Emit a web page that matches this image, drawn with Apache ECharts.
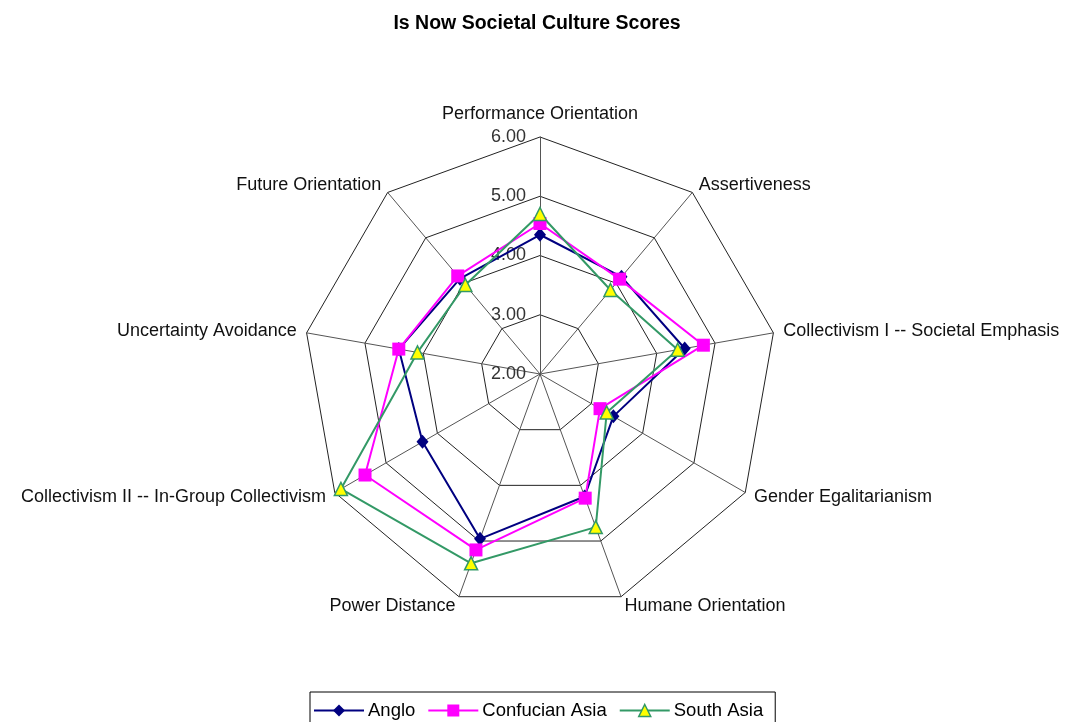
<!DOCTYPE html>
<html>
<head>
<meta charset="utf-8">
<title>Is Now Societal Culture Scores</title>
<script src="https://cdn.jsdelivr.net/npm/echarts@6/dist/echarts.min.js"></script>
<style>
  html, body { margin: 0; padding: 0; background: #fff; }
  #radarChart { width: 1074px; height: 722px; }
</style>
</head>
<body>
<div id="radarChart"></div>
<script>
// dimensions, listed counterclockwise from the top (ECharts radar default)
const dimensions = [
  'Performance Orientation',
  'Future Orientation',
  'Uncertainty Avoidance',
  'Collectivism II -- In-Group Collectivism',
  'Power Distance',
  'Humane Orientation',
  'Gender Egalitarianism',
  'Collectivism I -- Societal Emphasis',
  'Assertiveness'
];
const scaleMin = 2;
const scaleMax = 6;

const anglo = [4.35, 4.10, 4.42, 4.29, 4.96, 4.20, 3.43, 4.48, 4.14];
const confucianAsia = [4.54, 4.16, 4.42, 5.41, 5.16, 4.23, 3.17, 4.80, 4.09];
const southAsia = [4.70, 3.96, 4.10, 5.88, 5.40, 4.75, 3.30, 4.36, 3.85];

const groups = [
  { name: 'Anglo', values: anglo, line: '#000080', fill: '#000080', symbol: 'diamond', size: [12, 14] },
  { name: 'Confucian Asia', values: confucianAsia, line: '#FF00FF', fill: '#FF00FF', symbol: 'rect', size: 13 },
  { name: 'South Asia', values: southAsia, line: '#339966', fill: '#FFFF00', symbol: 'triangle', size: 13 }
];

const font = 'Liberation Sans, Arial, sans-serif';

let chartInstance = echarts.init(document.getElementById('radarChart'));

const indicators = dimensions.map(function (d, i) {
  const ind = { name: d, min: scaleMin, max: scaleMax };
  // only the top axis carries the value labels
  if (i === 0) {
    ind.axisLabel = { show: true };
    ind.nameGap = 14;
  }
  return ind;
});

// empty line series only give the legend its line + marker icons
const legendSeries = groups.map(function (g) {
  return {
    name: g.name,
    type: 'line',
    data: [],
    symbol: g.symbol,
    lineStyle: { color: g.line, width: 2 },
    itemStyle: { color: g.fill, borderColor: g.line, borderWidth: g.symbol === 'triangle' ? 1.5 : 0 }
  };
});

const radarSeries = groups.map(function (g) {
  return {
    name: g.name,
    type: 'radar',
    symbol: g.symbol,
    symbolSize: g.size,
    lineStyle: { color: g.line, width: 2 },
    itemStyle: {
      color: g.fill,
      borderColor: g.line,
      borderWidth: g.symbol === 'triangle' ? 1.5 : 0
    },
    data: [{ name: g.name, value: g.values }]
  };
});

const option = {
  animation: false,
  backgroundColor: '#fff',
  textStyle: { fontFamily: font },
  title: {
    text: 'Is Now Societal Culture Scores',
    left: 'center',
    top: 9,
    textStyle: { fontSize: 19.5, fontWeight: 'bold', color: '#000', fontFamily: font }
  },
  grid: { show: false, left: 0, top: 0, width: 1, height: 1 },
  xAxis: { type: 'category', show: false },
  yAxis: { type: 'value', show: false },
  legend: {
    top: 692,
    left: 310,
    padding: [9, 12, 12, 3],
    itemGap: 12,
    itemWidth: 50,
    itemHeight: 15,
    borderColor: '#000',
    borderWidth: 1,
    textStyle: { fontSize: 18.5, color: '#000', fontFamily: font, padding: [0, 0, 0, -1] },
    data: groups.map(function (g) {
      return {
        name: g.name,
        itemStyle: { color: g.fill, borderColor: g.line, borderWidth: g.symbol === 'triangle' ? 1.5 : 0 },
        lineStyle: { color: g.line, width: 2 }
      };
    })
  },
  radar: {
    center: [540, 374],
    radius: 237,
    shape: 'polygon',
    splitNumber: 4,
    nameGap: 10,
    axisName: { color: '#111', fontSize: 18, fontFamily: font },
    axisLine: { lineStyle: { color: '#555', width: 1 } },
    splitLine: { lineStyle: { color: '#222', width: 1 } },
    splitArea: { show: false },
    axisLabel: {
      show: false,
      margin: 14,
      fontSize: 18,
      color: '#333',
      fontFamily: font,
      formatter: function (v) { return v.toFixed(2); }
    },
    indicator: indicators
  },
  series: legendSeries.concat(radarSeries)
};

chartInstance.setOption(option);
window.onresize = function () {
  chartInstance.resize();
};
</script>
</body>
</html>
